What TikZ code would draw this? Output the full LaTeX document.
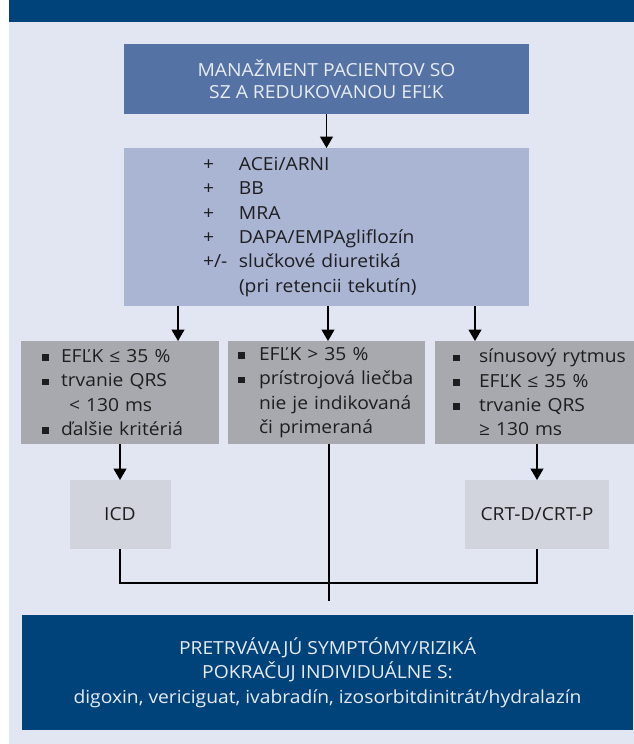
\documentclass[tikz,border=0pt]{standalone}
\usepackage{fontspec}
\setmainfont{Open Sans}[FakeStretch=1.07]
\usetikzlibrary{arrows.meta}
\definecolor{barblue}{RGB}{0,66,122}
\definecolor{pageblue}{RGB}{225,230,242}
\definecolor{headblue}{RGB}{84,114,163}
\definecolor{drugblue}{RGB}{170,180,211}
\definecolor{critgrey}{RGB}{167,169,174}
\definecolor{devgrey}{RGB}{209,212,220}
\definecolor{paletext}{RGB}{232,236,244}
\definecolor{inktext}{RGB}{30,30,32}
\newcommand{\sqbul}[1][20pt]{\makebox[#1][l]{\rule[1.5pt]{6.5pt}{6.5pt}}}
\newcommand{\plusitem}[1]{\makebox[36pt][l]{#1}}
\begin{document}
\begin{tikzpicture}[yscale=-1,x=1pt,y=1pt,
  box/.style={outer sep=0pt,inner ysep=0pt,font=\fontsize{18}{24.3}\selectfont},
  arr/.style={-{Triangle[width=13pt,length=11.5pt]},line width=1.3pt}]
\useasboundingbox (0,0) rectangle (633,744);
\fill[pageblue] (9,22) rectangle (720,744);
\fill[barblue] (9,0) rectangle (720,22);
\node[box,fill=headblue,text=paletext,align=center,minimum width=405pt,minimum height=70pt,
  font=\fontsize{18}{22.5}\selectfont] (mgmt) at (326.5,79)
  {MANAŽMENT PACIENTOV SO\\SZ A REDUKOVANOU EFĽK};
\node[box,fill=drugblue,text=inktext,align=left,minimum height=158pt,inner xsep=79pt,text width=247pt] (therapy) at (326.5,227)
  {\plusitem{+}ACEi/ARNI\\\plusitem{+}BB\\\plusitem{+}MRA\\\plusitem{+}\mbox{DAPA/EMPAgliflozín}\\\plusitem{+/-}\mbox{slučkové diuretiká}\\\plusitem{}\mbox{(pri retencii tekutín)}};
\node[box,fill=critgrey,text=inktext,align=left,minimum height=103pt,inner xsep=21pt,text width=156pt] (crit1) at (120,392.5)
  {\sqbul[19pt]\mbox{EFĽK ≤ 35 \%}\\\sqbul[19pt]\mbox{trvanie QRS}\\\hspace*{27pt}\mbox{< 130 ms}\\\sqbul[19pt]\mbox{ďalšie kritériá}};
\node[box,fill=critgrey,text=inktext,align=left,minimum height=103pt,inner xsep=10pt,text width=177pt] (crit2) at (326.5,392.5)
  {\sqbul[21pt]\mbox{EFĽK > 35 \%}\\\sqbul[21pt]\mbox{prístrojová liečba}\\\hspace*{21pt}\mbox{nie je indikovaná}\\\hspace*{21pt}\mbox{či primeraná}};
\node[box,fill=critgrey,text=inktext,align=left,minimum height=103pt,inner xsep=18pt,text width=164pt] (crit3) at (535,392.5)
  {\sqbul[26pt]\mbox{sínusový rytmus}\\\sqbul[26pt]\mbox{EFĽK ≤ 35 \%}\\\sqbul[26pt]\mbox{trvanie QRS}\\\hspace*{26pt}\mbox{≥ 130 ms}};
\node[box,fill=devgrey,text=inktext,minimum width=101pt,minimum height=69pt] (icd) at (120,514.5) {ICD};
\node[box,fill=devgrey,text=inktext,minimum width=143.5pt,minimum height=69pt] (crt) at (537,514.5) {CRT-D/CRT-P};
\node[box,fill=barblue,text=paletext,align=center,minimum width=611pt,minimum height=115pt] (rest) at (327.5,672.5)
  {PRETRVÁVAJÚ SYMPTÓMY/RIZIKÁ\\POKRAČUJ INDIVIDUÁLNE S:\\digoxin, vericiguat, ivabradín, izosorbitdinitrát/hydralazín};
\coordinate (meet) at (329,583);
\coordinate (tail) at (329,601);
\draw[arr] (mgmt) -- (therapy);
\draw[arr] ([xshift=54pt]therapy.south west) -- ([xshift=54pt]therapy.south west |- crit1.north);
\draw[arr] ([xshift=1.5pt]therapy.south) -- ([xshift=1.5pt]crit2.north);
\draw[arr] ([xshift=-54pt]therapy.south east) -- ([xshift=-54pt]therapy.south east |- crit3.north);
\draw[arr] (icd.north |- crit1.south) -- (icd);
\draw[arr] (crt.north |- crit3.south) -- (crt);
\draw[line width=1.3pt] (meet |- crit2.south) -- (tail);
\draw[line width=1.3pt] (icd) |- (meet) -| (crt);
\end{tikzpicture}
\end{document}
